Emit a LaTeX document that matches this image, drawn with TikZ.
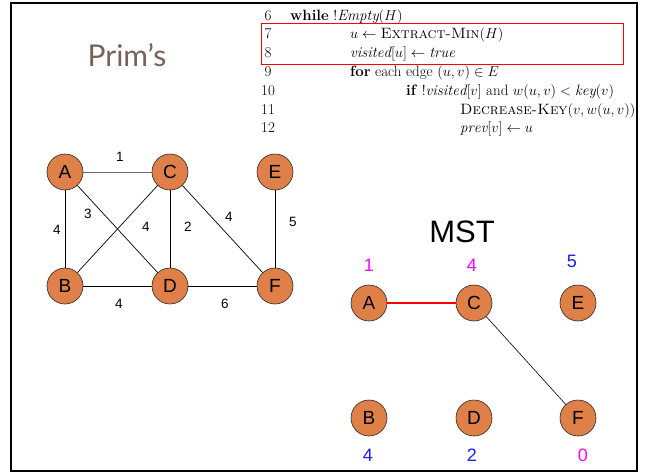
\documentclass[tikz,border=0pt]{standalone}
\usepackage{amsmath,amssymb}
\usepackage{fontspec}
\usepackage{tikz}
\usepackage{xcolor}
\usetikzlibrary{positioning,calc}
\newfontfamily\arialfont{Liberation Sans}
\newfontfamily\titlefont{Lato}
\definecolor{vertex}{HTML}{DE8048}
\definecolor{title}{HTML}{7B6058}
\definecolor{keypink}{HTML}{FF00FF}
\definecolor{keyblue}{HTML}{1A1AFF}
\definecolor{treered}{HTML}{FF0000}
\tikzset{
  vert/.style={circle, draw=black!85, fill=vertex, line width=0.6pt,
               minimum size=36pt, inner sep=0pt, font=\arialfont\fontsize{19}{19}\selectfont},
  edge/.style={draw=black, line width=0.7pt},
  wlabel/.style={font=\arialfont\fontsize{13.5}{13.5}\selectfont, inner sep=1pt},
  keylabel/.style={font=\arialfont\fontsize{18}{18}\selectfont, inner sep=1pt},
  code/.style={anchor=base west, inner sep=0pt, font=\fontsize{15}{18}\selectfont},
  lineno/.style={anchor=base, inner sep=0pt, font=\fontsize{15}{18}\selectfont}
}

\begin{document}
\begin{tikzpicture}[x=1pt,y=-1pt]
  \useasboundingbox (0,0) rectangle (646,474);
  % frame
  \draw[line width=2.2pt] (11,3) rectangle (637,471);

  % pseudocode
  \foreach \n [count=\i from 0] in {6,...,12}
    \node[lineno] (no\n) at (268,{20+18.8*\i}) {\n};
  \node[code] (l6) at (290,20) {\textbf{while} $!\mathit{Empty}(H)$};
  \node[code] (l7) at (350,38.8) {$u \leftarrow \textsc{Extract-Min}(H)$};
  \node[code] (l8) at (350,57.6) {$\mathit{visited}[u] \leftarrow \mathit{true}$};
  \node[code] (l9) at (350,76.4) {\textbf{for} each edge $(u,v) \in E$};
  \node[code] (l10) at (406,95.2) {\textbf{if} $!\mathit{visited}[v]$ and $w(u,v) < \mathit{key}(v)$};
  \node[code] (l11) at (460,114) {\textsc{Decrease-Key}$(v,w(u,v))$};
  \node[code] (l12) at (460,132.8) {$\mathit{prev}[v] \leftarrow u$};
  \draw[treered, line width=0.9pt] (261,23) rectangle (623,64);

  \node[text=title, font=\titlefont\fontsize{30}{30}\selectfont] (prims) at (127,55) {Prim’s};

  % graph
  \node[vert] (A) at (65,172) {A};
  \node[vert] (C) at (170,172) {C};
  \node[vert] (E) at (275,172) {E};
  \node[vert] (B) at (65,286) {B};
  \node[vert] (D) at (170,286) {D};
  \node[vert] (F) at (275,286) {F};
  \draw[edge, draw=black!60] (A) -- (C);
  \draw[edge] (A) -- (B);
  \draw[edge] (A) -- (D);
  \draw[edge] (B) -- (C);
  \draw[edge] (C) -- (D);
  \draw[edge] (C) -- (F);
  \draw[edge] (E) -- (F);
  \draw[edge] (B) -- (D);
  \draw[edge] (D) -- (F);
  \node[wlabel] (wAC) at (120,157) {1};
  \node[wlabel] (wAB) at (57,230) {4};
  \node[wlabel] (wAD) at (88,214) {3};
  \node[wlabel] (wBC) at (146,227) {4};
  \node[wlabel] (wCD) at (188,227) {2};
  \node[wlabel] (wCF) at (229,217) {4};
  \node[wlabel] (wEF) at (293,222) {5};
  \node[wlabel] (wBD) at (119,304) {4};
  \node[wlabel] (wDF) at (225,304) {6};

  % MST
  \node[font=\arialfont\fontsize{31}{31}\selectfont] (mst) at (462,232) {MST};
  \node[vert] (mA) at (369,303) {A};
  \node[vert] (mC) at (474,303) {C};
  \node[vert] (mE) at (578,303) {E};
  \node[vert] (mB) at (369,418) {B};
  \node[vert] (mD) at (474,418) {D};
  \node[vert] (mF) at (578,418) {F};
  \draw[treered, line width=1.6pt] (mA) -- (mC);
  \draw[black, line width=0.6pt] (mC) -- (mF);
  \node[keylabel, text=keypink] (kA) at (369,265) {1};
  \node[keylabel, text=keypink] (kC) at (472,265) {4};
  \node[keylabel, text=keyblue] (kE) at (572,261) {5};
  \node[keylabel, text=keyblue] (kB) at (368,455) {4};
  \node[keylabel, text=keyblue] (kD) at (472,455) {2};
  \node[keylabel, text=keypink] (kF) at (583,455) {0};
\end{tikzpicture}
\end{document}
